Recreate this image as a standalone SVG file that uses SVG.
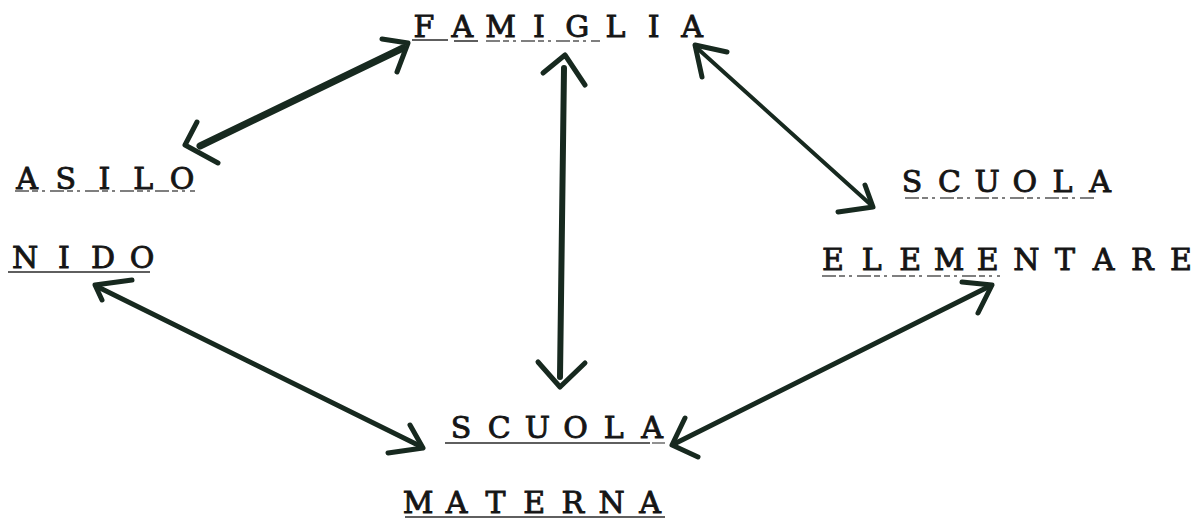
<svg xmlns="http://www.w3.org/2000/svg" width="1197" height="519" viewBox="0 0 1197 519">
<style>
.t{font-family:"DejaVu Serif","Liberation Serif",serif;font-size:30px;font-weight:normal;text-anchor:middle;fill:#151515;stroke:#151515;stroke-width:0.9}
.u{stroke:#2a2a2a;stroke-width:1.6;fill:none}
.uf{stroke:#555;stroke-width:1.3;fill:none;stroke-dasharray:14 3 6 4 3 5}
.s{stroke:#17291f;fill:none;stroke-linecap:round;stroke-linejoin:round}
.h{stroke:#17291f;fill:none;stroke-width:5;stroke-linecap:round;stroke-linejoin:round}
</style>
<rect width="1197" height="519" fill="#ffffff"/>
<g id="famiglia">
<text class="t" x="424 443.2 462.3 481.5 500.6 519.8 538.9 558.1 577.2 596.4 615.5 634.7 653.8 673 692.1" y="37">F A M I G L I A</text>
<path class="u" d="M412 40 H448 M454 41 H478"/>
<path class="uf" d="M486 41 H600"/>
</g>
<g id="asilo-nido">
<text class="t" x="27 46.4 65.8 85.1 104.5 123.9 143.3 162.6 182" y="189">A S I L O</text>
<path class="uf" d="M15 191 H195"/>
<text class="t" x="25 44.5 64 83.5 103 122.5 142" y="268">N I D O</text>
<path class="u" d="M8 272 H150"/>
</g>
<g id="scuola-elementare">
<text class="t" x="912 930.8 949.6 968.4 987.2 1006 1024.8 1043.6 1062.4 1081.2 1100" y="192">S C U O L A</text>
<path class="uf" d="M905 198 H1095"/>
<text class="t" x="833 852.3 871.7 891 910.3 929.7 949 968.3 987.7 1007 1026.3 1045.7 1065 1084.3 1103.7 1123 1142.3 1161.7 1181" y="270">E L E M E N T A R E</text>
<path class="uf" d="M822 276 H1000"/>
</g>
<g id="scuola-materna">
<text class="t" x="461 480.1 499.2 518.3 537.4 556.5 575.6 594.7 613.8 632.9 652" y="438">S C U O L A</text>
<path class="u" d="M445 443 H650"/>
<path class="uf" d="M652 443 H665"/>
<text class="t" x="418 437.4 456.7 476.1 495.4 514.8 534.1 553.5 572.8 592.2 611.5 630.9 650.2" y="513">M A T E R N A</text>
<path class="u" d="M405 517 H665"/>
</g>
<g id="connectors">
<path class="s" stroke-width="7" d="M200 146 L403 48"/>
<polyline class="h" points="382,39 408,43 397,72"/>
<polyline class="h" points="197,122 185,145 218,163"/>
<path class="s" stroke-width="6" d="M564 68 L560 377"/>
<polyline class="h" points="543,73 565,55 585,85"/>
<polyline class="h" points="538,362 560,387 585,363"/>
<path class="s" stroke-width="4" d="M697 48 L870 204"/>
<polyline class="h" points="727,52 695,45 702,77"/>
<polyline class="h" points="865,185 873,207 838,212"/>
<path class="s" stroke-width="5" d="M98 287 L420 446"/>
<polyline class="h" points="132,280 95,285 102,300"/>
<polyline class="h" points="410,425 423,448 388,453"/>
<path class="s" stroke-width="5" d="M988 287 L676 443"/>
<polyline class="h" points="962,282 992,285 978,313"/>
<polyline class="h" points="685,418 672,445 698,457"/>
</g>
</svg>
